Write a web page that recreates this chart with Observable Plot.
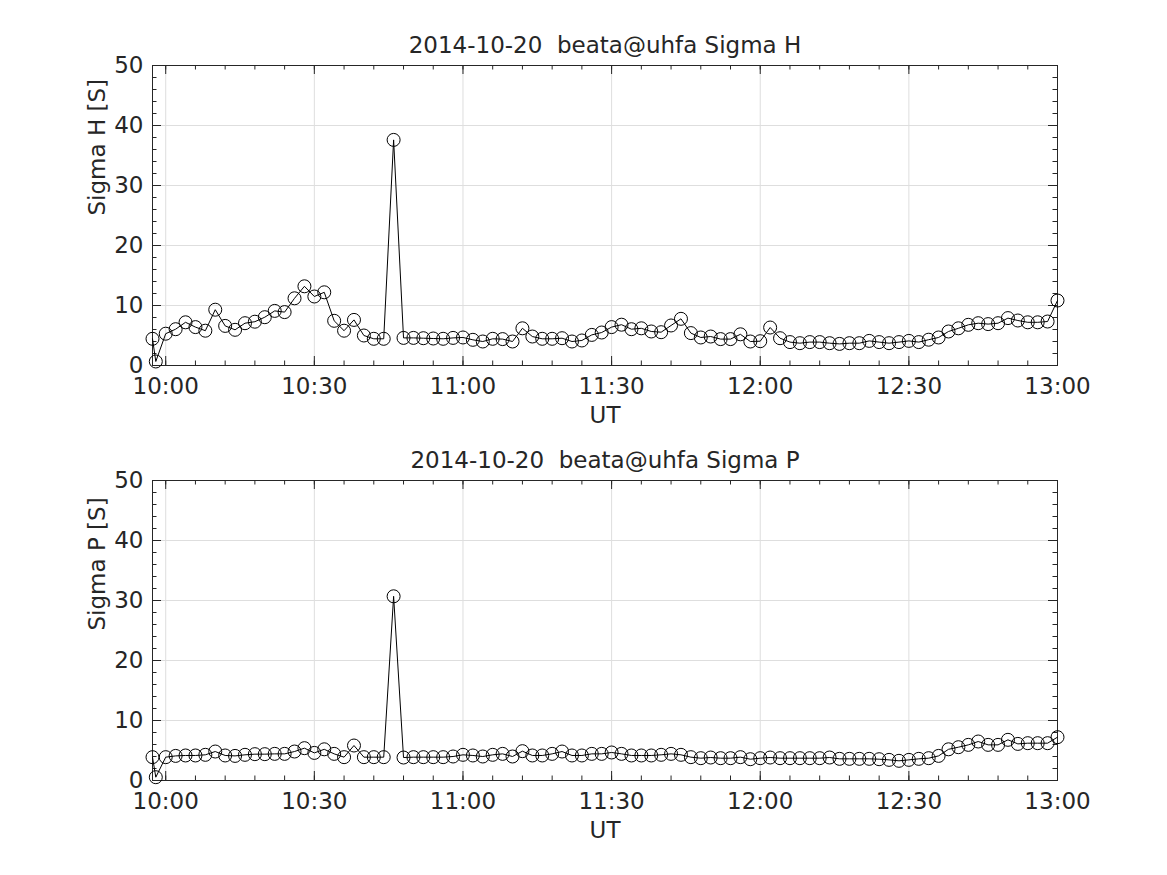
<!DOCTYPE html>
<html><head><meta charset="utf-8">
<script src="https://cdn.jsdelivr.net/npm/d3@7"></script>
<script src="https://cdn.jsdelivr.net/npm/@observablehq/plot@0.6"></script>
<style>body{margin:0;background:#fff} #chart svg{display:block}</style>
</head><body><div id="chart"></div>
<script>
const dateLabel = "2014-10-20";
const station = "beata@uhfa";
const xAxisLabel = "UT";
const panelNames = ["Sigma H", "Sigma P"];
const unit = "[S]";

const times = [
  "09:57:20","09:58:00",
  "10:00","10:02","10:04","10:06","10:08","10:10","10:12","10:14","10:16","10:18",
  "10:20","10:22","10:24","10:26","10:28","10:30","10:32","10:34","10:36","10:38",
  "10:40","10:42","10:44","10:46","10:48","10:50","10:52","10:54","10:56","10:58",
  "11:00","11:02","11:04","11:06","11:08","11:10","11:12","11:14","11:16","11:18",
  "11:20","11:22","11:24","11:26","11:28","11:30","11:32","11:34","11:36","11:38",
  "11:40","11:42","11:44","11:46","11:48","11:50","11:52","11:54","11:56","11:58",
  "12:00","12:02","12:04","12:06","12:08","12:10","12:12","12:14","12:16","12:18",
  "12:20","12:22","12:24","12:26","12:28","12:30","12:32","12:34","12:36","12:38",
  "12:40","12:42","12:44","12:46","12:48","12:50","12:52","12:54","12:56","12:58",
  "13:00"
];

const sigmaH = [
  4.45, 0.67,
  5.3, 6.05, 7.2, 6.4, 5.8, 9.3, 6.6, 5.95, 7.05, 7.3,
  8.05, 9.1, 8.9, 11.2, 13.2, 11.5, 12.2, 7.45, 5.8, 7.6,
  5.0, 4.45, 4.45, 37.6, 4.6, 4.6, 4.55, 4.5, 4.45, 4.6,
  4.67, 4.28, 4.0, 4.45, 4.4, 4.0, 6.2, 4.83, 4.45, 4.45,
  4.55, 4.0, 4.17, 5.1, 5.5, 6.4, 6.8, 6.05, 6.2, 5.67,
  5.55, 6.67, 7.78, 5.4, 4.67, 4.83, 4.4, 4.4, 5.2, 4.0,
  4.05, 6.33, 4.55, 3.9, 3.72, 3.9, 3.9, 3.72, 3.6, 3.72,
  3.72, 4.1, 3.9, 3.72, 3.9, 4.1, 3.9, 4.3, 4.67, 5.67,
  6.2, 6.78, 7.05, 6.9, 7.05, 7.9, 7.5, 7.2, 7.2, 7.33,
  10.83
];

const sigmaP = [
  3.89, 0.55,
  3.89, 4.1, 4.17, 4.17, 4.28, 4.83, 4.17, 4.1, 4.28, 4.39,
  4.39, 4.44, 4.44, 4.83, 5.39, 4.6, 5.2, 4.44, 3.89, 5.83,
  3.89, 3.89, 3.89, 30.7, 3.83, 3.89, 3.89, 3.89, 3.89, 4.0,
  4.28, 4.17, 4.0, 4.28, 4.44, 4.0, 4.89, 4.17, 4.17, 4.44,
  4.83, 4.17, 4.17, 4.44, 4.44, 4.67, 4.44, 4.17, 4.17, 4.17,
  4.28, 4.44, 4.28, 3.89, 3.72, 3.83, 3.72, 3.72, 3.89, 3.55,
  3.72, 3.83, 3.72, 3.72, 3.72, 3.72, 3.72, 3.83, 3.61, 3.61,
  3.61, 3.61, 3.55, 3.44, 3.28, 3.44, 3.61, 3.72, 4.1, 5.2,
  5.55, 5.94, 6.5, 5.94, 5.94, 6.78, 6.1, 6.22, 6.22, 6.22,
  7.22
];

const xTickLabels = ["10:00","10:30","11:00","11:30","12:00","12:30","13:00"];
const xMinorTicks = [
  "10:00","10:06","10:12","10:18","10:24","10:30","10:36","10:42","10:48","10:54",
  "11:00","11:06","11:12","11:18","11:24","11:30","11:36","11:42","11:48","11:54",
  "12:00","12:06","12:12","12:18","12:24","12:30","12:36","12:42","12:48","12:54","13:00"
];
const xEnd = "13:00";
const yTicks = [0, 10, 20, 30, 40, 50];
const yMinorTicks = [0,2,4,6,8,10,12,14,16,18,20,22,24,26,28,30,32,34,36,38,40,42,44,46,48,50];

const parse = s => {
  const [h, m, sec = "0"] = s.split(":");
  return new Date(Date.UTC(2014, 9, 20, +h, +m, +sec));
};

const ink = "#262626";
const gridColor = "#dedede";
const W = 1167, mLeft = 152, mRight = 110, frameH = 300;
const frameW = W - mLeft - mRight;
const FS = 23;

function panel(name, values, height, marginTop, marginBottom) {
  const data = times.map((t, i) => ({t: parse(t), v: values[i]}));
  const xMaj = xTickLabels.map(parse);
  const xMin = xMinorTicks.map(parse);
  return Plot.plot({
    width: W, height, marginLeft: mLeft, marginRight: mRight, marginTop, marginBottom,
    style: {fontFamily: "DejaVu Sans, sans-serif", fontSize: FS + "px", color: ink, background: "#fff", overflow: "visible"},
    x: {type: "utc", domain: [parse(times[0]), parse(xEnd)]},
    y: {domain: [yTicks[0], yTicks[yTicks.length - 1]]},
    marks: [
      Plot.gridX(xMaj, {stroke: gridColor, strokeOpacity: 1}),
      Plot.gridY(yTicks, {stroke: gridColor, strokeOpacity: 1}),
      Plot.frame({stroke: ink, strokeWidth: 1}),
      Plot.tickX(xMaj, {insetTop: frameH - 9, stroke: ink}),
      Plot.tickX(xMaj, {insetBottom: frameH - 9, stroke: ink}),
      Plot.tickX(xMin, {insetTop: frameH - 4.5, stroke: ink}),
      Plot.tickX(xMin, {insetBottom: frameH - 4.5, stroke: ink}),
      Plot.tickY(yTicks, {insetRight: frameW - 9, stroke: ink}),
      Plot.tickY(yTicks, {insetLeft: frameW - 9, stroke: ink}),
      Plot.tickY(yMinorTicks, {insetRight: frameW - 4.5, stroke: ink}),
      Plot.tickY(yMinorTicks, {insetLeft: frameW - 4.5, stroke: ink}),
      Plot.line(data, {x: "t", y: "v", stroke: "black", strokeWidth: 1}),
      Plot.dot(data, {x: "t", y: "v", r: 6.5, stroke: "black", fill: "none", strokeWidth: 1}),
      Plot.axisX({ticks: xMaj, tickSize: 0, tickPadding: 12, tickFormat: d3.utcFormat("%H:%M"), fontSize: FS, label: null}),
      Plot.axisY({ticks: yTicks, tickSize: 0, tickPadding: 9, fontSize: FS, label: null}),
      Plot.text([`${name} ${unit}`], {frameAnchor: "left", lineAnchor: "middle", rotate: -90, dx: -55, fontSize: FS, fill: ink}),
      Plot.text([xAxisLabel], {frameAnchor: "bottom", lineAnchor: "middle", dy: 50, fontSize: FS, fill: ink}),
      Plot.text([`${dateLabel}  ${station} ${name}`], {frameAnchor: "top", lineAnchor: "middle", dy: -20, fontSize: FS, fill: ink})
    ]
  });
}

const root = document.getElementById("chart");
root.appendChild(panel(panelNames[0], sigmaH, 437, 65, 72));
root.appendChild(panel(panelNames[1], sigmaP, 438, 43, 95));
</script>
</body></html>
